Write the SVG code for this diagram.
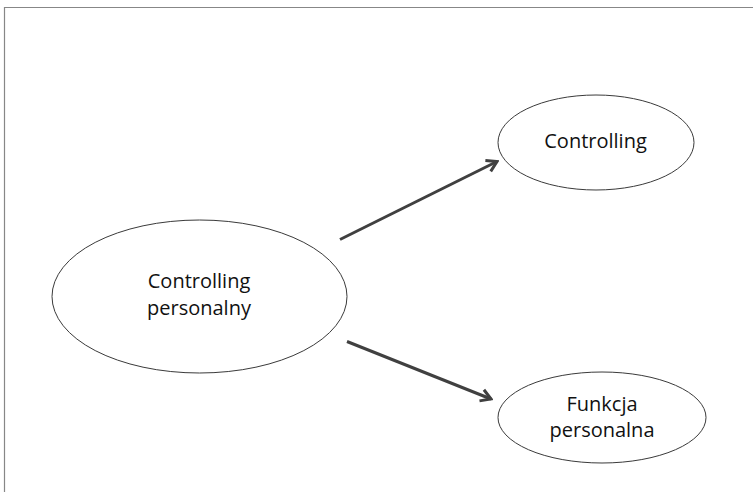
<svg xmlns="http://www.w3.org/2000/svg" width="753" height="492" viewBox="0 0 753 492">
<style>
.node ellipse{fill:#fff;stroke:#3a3a3a;stroke-width:1}
.node text{font-family:"Open Sans","Liberation Sans",sans-serif;font-size:20px;fill:#111;text-anchor:middle}
.conn line{stroke:#404040;stroke-width:3;fill:none}
</style>
<defs>
<marker id="ah" markerUnits="userSpaceOnUse" viewBox="0 0 16 16" refX="14" refY="8" markerWidth="16" markerHeight="16" orient="auto">
<path d="M4,2 L14,8 L4,14" fill="none" stroke="#404040" stroke-width="3" stroke-linejoin="miter"/>
</marker>
</defs>
<rect width="753" height="492" fill="#fff"/>
<path d="M4.5,492 V7.5 H753" fill="none" stroke="#878787" stroke-width="1.2"/>
<g class="conn">
<line x1="340" y1="239.5" x2="497" y2="161.5" marker-end="url(#ah)"/>
<line x1="347" y1="341.5" x2="491" y2="399" marker-end="url(#ah)"/>
</g>
<g class="node" id="controlling-personalny">
<ellipse cx="199.5" cy="296.5" rx="147.5" ry="76.5"/>
<text x="199" y="288.3">Controlling</text>
<text x="199" y="315">personalny</text>
</g>
<g class="node" id="controlling">
<ellipse cx="596" cy="142.5" rx="98" ry="47.5"/>
<text x="595.5" y="148.3">Controlling</text>
</g>
<g class="node" id="funkcja-personalna">
<ellipse cx="602" cy="417.5" rx="104" ry="45.5"/>
<text x="602" y="410.7">Funkcja</text>
<text x="602" y="436.7">personalna</text>
</g>
</svg>
